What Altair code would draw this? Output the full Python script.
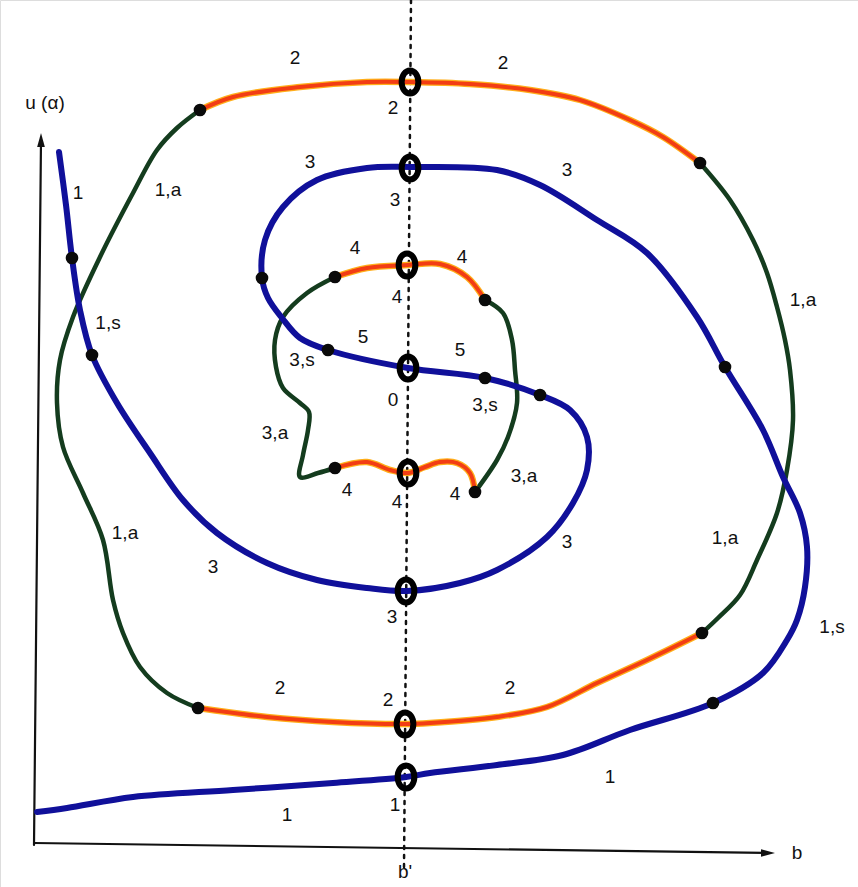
import altair as alt
import pandas as pd

W, H = 858, 887

# ---- branch traced through 1 -> 1,s -> 3 -> 5 -> 3 -> 1,s -> 1 (one continuous curve)
blue_x = [59, 66, 72, 80, 92, 117, 150, 183, 217, 267, 317, 367, 407, 460, 497, 547, 573, 587,
          587, 570, 540, 485, 408, 328, 300, 282, 268, 262, 265, 283, 317, 367, 410, 497, 540,
          597, 647, 697, 725, 763, 783, 800, 807, 805, 797, 787, 763, 713, 630, 563, 497, 430,
          406, 333, 233, 133, 67, 37]
blue_y = [152, 205, 258, 310, 355, 403, 453, 500, 533, 563, 580, 588, 591, 583, 570, 537, 503, 470,
          437, 410, 395, 378, 368, 350, 338, 318, 298, 278, 240, 207, 180, 168, 167, 170, 185,
          220, 253, 317, 367, 430, 477, 513, 547, 587, 620, 640, 673, 703, 730, 755, 765, 773,
          777, 783, 790, 797, 808, 812]

# ---- outer cycle: stable arcs "2" and connecting arcs "1,a"
top2_x = [200, 233, 300, 367, 410, 470, 530, 580, 630, 663, 700]
top2_y = [110, 97, 87, 82, 82, 84, 90, 100, 120, 137, 163]
right1a_x = [700, 730, 753, 767, 777, 785, 790, 793, 787, 777, 757, 740, 718, 702]
right1a_y = [163, 200, 240, 273, 307, 340, 370, 420, 470, 513, 560, 595, 618, 633]
bottom2_x = [702, 647, 597, 547, 497, 430, 405, 333, 267, 198]
bottom2_y = [633, 660, 683, 707, 717, 723, 724, 722, 717, 708]
left1a_x = [198, 167, 140, 123, 113, 103, 83, 63, 57, 60, 73, 100, 133, 157, 177, 200]
left1a_y = [708, 693, 667, 633, 600, 540, 493, 447, 403, 360, 317, 257, 193, 150, 128, 110]

# ---- inner cycle: arcs "4" and connecting arcs "3,a"
top4_x = [335, 367, 408, 440, 467, 485]
top4_y = [277, 268, 265, 264, 277, 300]
right3a_x = [485, 503, 512, 515, 517, 508, 497, 475]
right3a_y = [300, 313, 340, 370, 403, 437, 460, 492]
bottom4_x = [475, 470, 457, 440, 425, 408, 390, 367, 335]
bottom4_y = [492, 473, 463, 462, 467, 473, 470, 462, 468]
left3a_x = [335, 318, 300, 303, 308, 309, 300, 283, 276, 275, 283, 307, 335]
left3a_y = [468, 473, 477, 455, 430, 412, 403, 388, 367, 340, 317, 293, 277]

# ---- marked points
dot_x = [200, 700, 702, 198, 72, 92, 725, 713, 262, 328, 485, 540, 335, 485, 475, 335]
dot_y = [110, 163, 633, 708, 258, 355, 367, 703, 278, 350, 378, 395, 277, 300, 492, 468]
ring_x = [410, 410, 407, 408, 408, 406, 405, 406]
ring_y = [82, 168, 265, 368, 473, 591, 724, 777]

# ---- labels
lab_text = ["2", "2", "2", "3", "3", "3", "1", "1,a", "1,a", "1,s", "4", "4", "4", "5", "5",
            "3,s", "3,s", "0", "3,a", "3,a", "4", "4", "4", "3", "1,a", "1,a", "3", "3",
            "2", "2", "2", "1,s", "1", "1", "1"]
lab_x = [295, 503, 393, 310, 567, 395, 78, 168, 803, 108, 355, 462, 397, 363, 460,
         302, 485, 393, 275, 524, 347, 397, 455, 567, 125, 725, 213, 392,
         280, 388, 510, 832, 287, 395, 610]
lab_y = [58, 63, 108, 162, 170, 200, 193, 190, 300, 323, 248, 257, 297, 337, 350,
         360, 405, 400, 433, 476, 490, 502, 494, 542, 533, 538, 567, 617,
         688, 700, 688, 627, 815, 805, 777]

# ---- axes, the b* line and axis titles
yaxis_x, yaxis_y = [34, 41], [845, 140]
xaxis_x, xaxis_y = [34, 768], [843, 853]
bstar_x, bstar_y = [411, 404], [0, 868]
title_text = ["u (\u03b1)", "b", "b'"]
title_x = [45, 797, 405]
title_y = [103, 853, 872]

BLUE = "#10109a"
GREEN = "#143c1e"
RED = "#f23d14"
AMBER = "#ffae1a"

xs = alt.Scale(domain=[0, W], nice=False, zero=False)
ys = alt.Scale(domain=[0, H], reverse=True, nice=False, zero=False)


def path_df(segments):
    rows = []
    for name, px, py in segments:
        for i, (a, b) in enumerate(zip(px, py)):
            rows.append({"seg": name, "i": i, "x": a, "y": b})
    return pd.DataFrame(rows)


def curve(df, color, width, dash=None, interp="catmull-rom"):
    kw = dict(color=color, strokeWidth=width, interpolate=interp,
              strokeCap="round", strokeJoin="round")
    if dash:
        kw["strokeDash"] = dash
    return alt.Chart(df).mark_line(**kw).encode(
        x=alt.X("x:Q", scale=xs, axis=None),
        y=alt.Y("y:Q", scale=ys, axis=None),
        detail="seg:N",
        order="i:Q",
    )


green_df = path_df([("r1a", right1a_x, right1a_y), ("l1a", left1a_x, left1a_y),
                    ("r3a", right3a_x, right3a_y), ("l3a", left3a_x, left3a_y)])
red_df = path_df([("t2", top2_x, top2_y), ("b2", bottom2_x, bottom2_y),
                  ("t4", top4_x, top4_y), ("b4", bottom4_x, bottom4_y)])
blue_df = path_df([("main", blue_x, blue_y)])

axes_df = path_df([("yax", yaxis_x, yaxis_y), ("xax", xaxis_x, xaxis_y)])
bstar_df = path_df([("bstar", bstar_x, bstar_y)])

dots_df = pd.DataFrame({"x": dot_x, "y": dot_y})
rings_df = pd.DataFrame({"x": ring_x, "y": ring_y})
labels_df = pd.DataFrame({"t": lab_text, "x": lab_x, "y": lab_y})
titles_df = pd.DataFrame({"t": title_text, "x": title_x, "y": title_y})
arrows_df = pd.DataFrame({"x": [yaxis_x[1], xaxis_x[1]], "y": [yaxis_y[1], xaxis_y[1]],
                          "dir": ["up", "right"]})

enc = dict(x=alt.X("x:Q", scale=xs, axis=None), y=alt.Y("y:Q", scale=ys, axis=None))

axes = curve(axes_df, "#111111", 2.2, interp="linear")
arrow_up = alt.Chart(arrows_df).transform_filter("datum.dir == 'up'").mark_point(
    shape="M0,-1L0.55,1L-0.55,1Z", size=196, filled=True, color="#111111", opacity=1
).encode(**enc)
arrow_right = alt.Chart(arrows_df).transform_filter("datum.dir == 'right'").mark_point(
    shape="M1,0L-1,-0.55L-1,0.55Z", size=196, filled=True, color="#111111", opacity=1
).encode(**enc)
bstar = curve(bstar_df, "#111111", 2.5, dash=[3, 6], interp="linear")

green = curve(green_df, GREEN, 4.5)
red_glow = curve(red_df, AMBER, 6.5)
red = curve(red_df, RED, 4)
blue = curve(blue_df, BLUE, 6)

rings = alt.Chart(rings_df).mark_point(
    shape="M0,-1A0.72,1 0 1,1 0,1A0.72,1 0 1,1 0,-1Z",
    size=540, filled=False, stroke="#000000", strokeWidth=6, opacity=1
).encode(**enc)
dots = alt.Chart(dots_df).mark_point(
    shape="circle", size=160, filled=True, color="#0a0a0a", opacity=1
).encode(**enc)

labels = alt.Chart(labels_df).mark_text(
    font="Liberation Sans", fontSize=19, color="#111111", align="center", baseline="middle"
).encode(text="t:N", **enc)
titles = alt.Chart(titles_df).mark_text(
    font="Liberation Sans", fontSize=19, color="#111111", align="center", baseline="middle"
).encode(text="t:N", **enc)

chart = alt.layer(
    axes, arrow_up, arrow_right, bstar, green, red_glow, red, blue, rings, dots, labels, titles
).properties(
    width=W, height=H, padding=0, autosize=alt.AutoSizeParams(type="none")
).configure_view(stroke=None).configure(background="white")

chart.save("out.html", embed_options={"renderer": "svg", "actions": False})
